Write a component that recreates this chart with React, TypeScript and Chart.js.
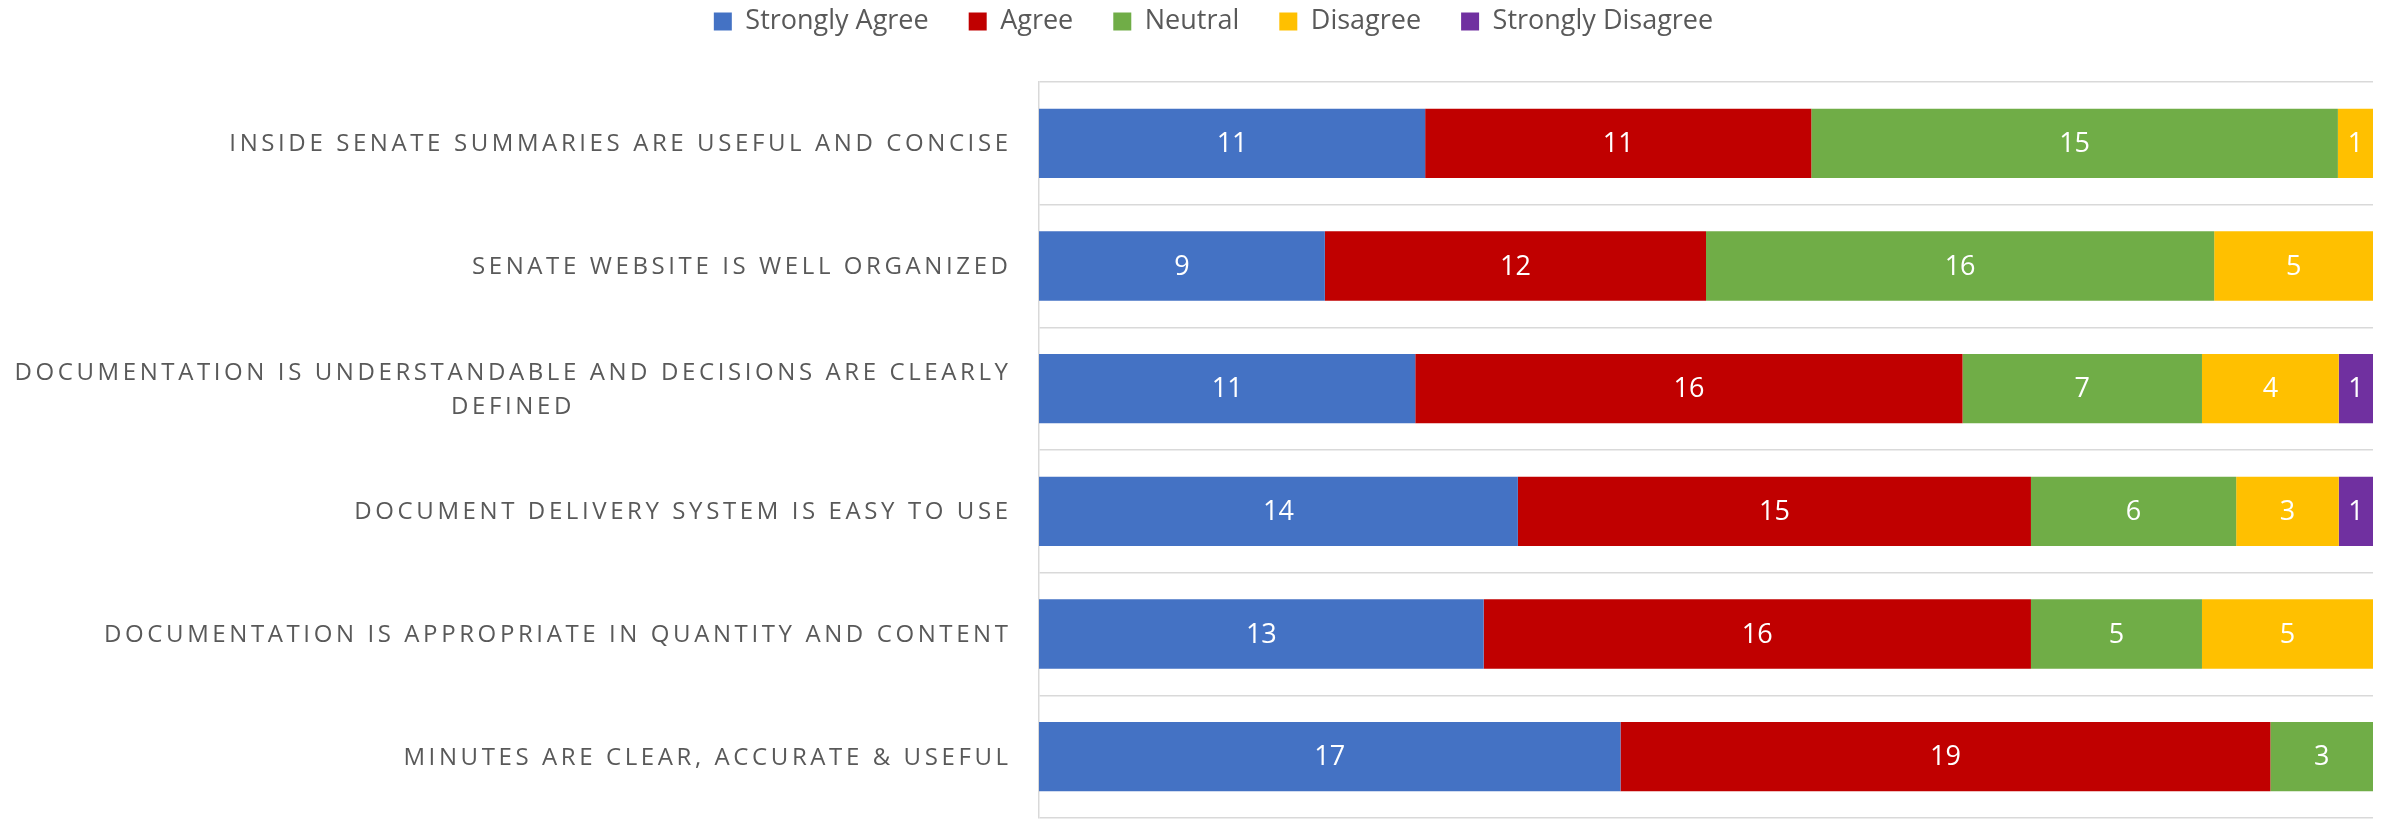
import React, { useEffect, useRef } from "react";
import { Chart, registerables } from "chart.js";

Chart.register(...registerables);

const categories: (string | string[])[] = [
  "INSIDE SENATE SUMMARIES ARE USEFUL AND CONCISE",
  "SENATE WEBSITE IS WELL ORGANIZED",
  ["DOCUMENTATION IS UNDERSTANDABLE AND DECISIONS ARE CLEARLY", "DEFINED"],
  "DOCUMENT DELIVERY SYSTEM IS EASY TO USE",
  "DOCUMENTATION IS APPROPRIATE IN QUANTITY AND CONTENT",
  "MINUTES ARE CLEAR, ACCURATE & USEFUL",
];

const seriesNames = ["Strongly Agree", "Agree", "Neutral", "Disagree", "Strongly Disagree"];
const stronglyAgree = [11, 9, 11, 14, 13, 17];
const agree = [11, 12, 16, 15, 16, 19];
const neutral = [15, 16, 7, 6, 5, 3];
const disagree = [1, 5, 4, 3, 5, 0];
const stronglyDisagree = [0, 0, 1, 1, 0, 0];
const seriesColors = ["#4472C4", "#C00000", "#70AD47", "#FFC000", "#7030A0"];

const FONT = "'Open Sans', sans-serif";

export default function App() {
  const ref = useRef<HTMLCanvasElement>(null);

  useEffect(() => {
    if (!ref.current) return;
    const series = [stronglyAgree, agree, neutral, disagree, stronglyDisagree];
    const totals = categories.map((_, i) => series.reduce((s, arr) => s + arr[i], 0));
    const datasets = series.map((arr, k) => ({
      label: seriesNames[k],
      data: arr.map((v, i) => (v / totals[i]) * 100),
      backgroundColor: seriesColors[k],
      borderWidth: 0,
      barPercentage: 0.565,
      categoryPercentage: 1,
    }));

    const legendShift = {
      id: "legendShift",
      beforeUpdate(chart: any) {
        const lg = chart.legend;
        if (!lg || lg._patched) return;
        lg._patched = true;
        const fit = lg.fit;
        lg.fit = function () {
          fit.call(this);
          this.height = 82;
        };
        const draw = lg.draw;
        lg.draw = function () {
          const c = this.ctx;
          c.save();
          c.translate(0, -32);
          draw.call(this);
          c.restore();
        };
      },
    };

    const valueLabels = {
      id: "valueLabels",
      afterDatasetsDraw(chart: any) {
        const ctx = chart.ctx;
        ctx.save();
        ctx.font = `27px ${FONT}`;
        ctx.fillStyle = "#FFFFFF";
        ctx.textAlign = "center";
        ctx.textBaseline = "middle";
        chart.data.datasets.forEach((_: any, k: number) => {
          const meta = chart.getDatasetMeta(k);
          meta.data.forEach((el: any, i: number) => {
            const v = series[k][i];
            if (!v) return;
            const p = el.getCenterPoint();
            ctx.fillText(String(v), p.x, p.y + 1);
          });
        });
        ctx.restore();
      },
    };

    const categoryLabels = {
      id: "categoryLabels",
      afterDraw(chart: any) {
        const ctx = chart.ctx;
        const yScale = chart.scales.y;
        const spacing = 3.6;
        ctx.save();
        ctx.font = `24px ${FONT}`;
        (ctx as any).letterSpacing = `${spacing}px`;
        ctx.fillStyle = "#595959";
        ctx.textAlign = "left";
        ctx.textBaseline = "middle";
        const right = chart.chartArea.left - 31;
        const lineH = 34;
        categories.forEach((lab, i) => {
          const lines = Array.isArray(lab) ? lab : [lab];
          const widths = lines.map((l) => ctx.measureText(l).width - spacing);
          const blockW = Math.max(...widths);
          const cx = right - blockW / 2;
          const y = yScale.getPixelForValue(i);
          const y0 = y - ((lines.length - 1) * lineH) / 2;
          lines.forEach((l, j) => {
            ctx.fillText(l, cx - widths[j] / 2, y0 + j * lineH + 1);
          });
        });
        ctx.restore();
      },
    };

    const chart = new Chart(ref.current, {
      type: "bar",
      data: { labels: categories as any, datasets },
      options: {
        responsive: false,
        animation: false,
        devicePixelRatio: 1,
        indexAxis: "y",
        layout: { padding: { left: 54, right: 16, top: 0, bottom: 1 } },
        plugins: {
          legend: {
            position: "top",
            labels: {
              font: { family: FONT, size: 27 },
              color: "#595959",
              boxWidth: 18,
              boxHeight: 18,
              padding: 40,
            },
          },
          tooltip: { enabled: false },
          title: { display: false },
        },
        scales: {
          x: { type: "linear", stacked: true, min: 0, max: 100, display: false },
          y: {
            type: "category",
            stacked: true,
            ticks: { display: false },
            grid: { color: "#D9D9D9", lineWidth: 1.5, drawTicks: false, offset: true },
            border: { display: true, color: "#D9D9D9", width: 1.5 },
            afterFit: (s: any) => {
              s.width = 985;
            },
          },
        },
      } as any,
      plugins: [legendShift, valueLabels, categoryLabels],
    });

    return () => chart.destroy();
  }, []);

  return (
    <div style={{ position: "fixed", left: 0, top: 0, width: 2389, height: 819, background: "#fff" }}>
      <canvas ref={ref} width={2389} height={819} style={{ display: "block" }} />
    </div>
  );
}
